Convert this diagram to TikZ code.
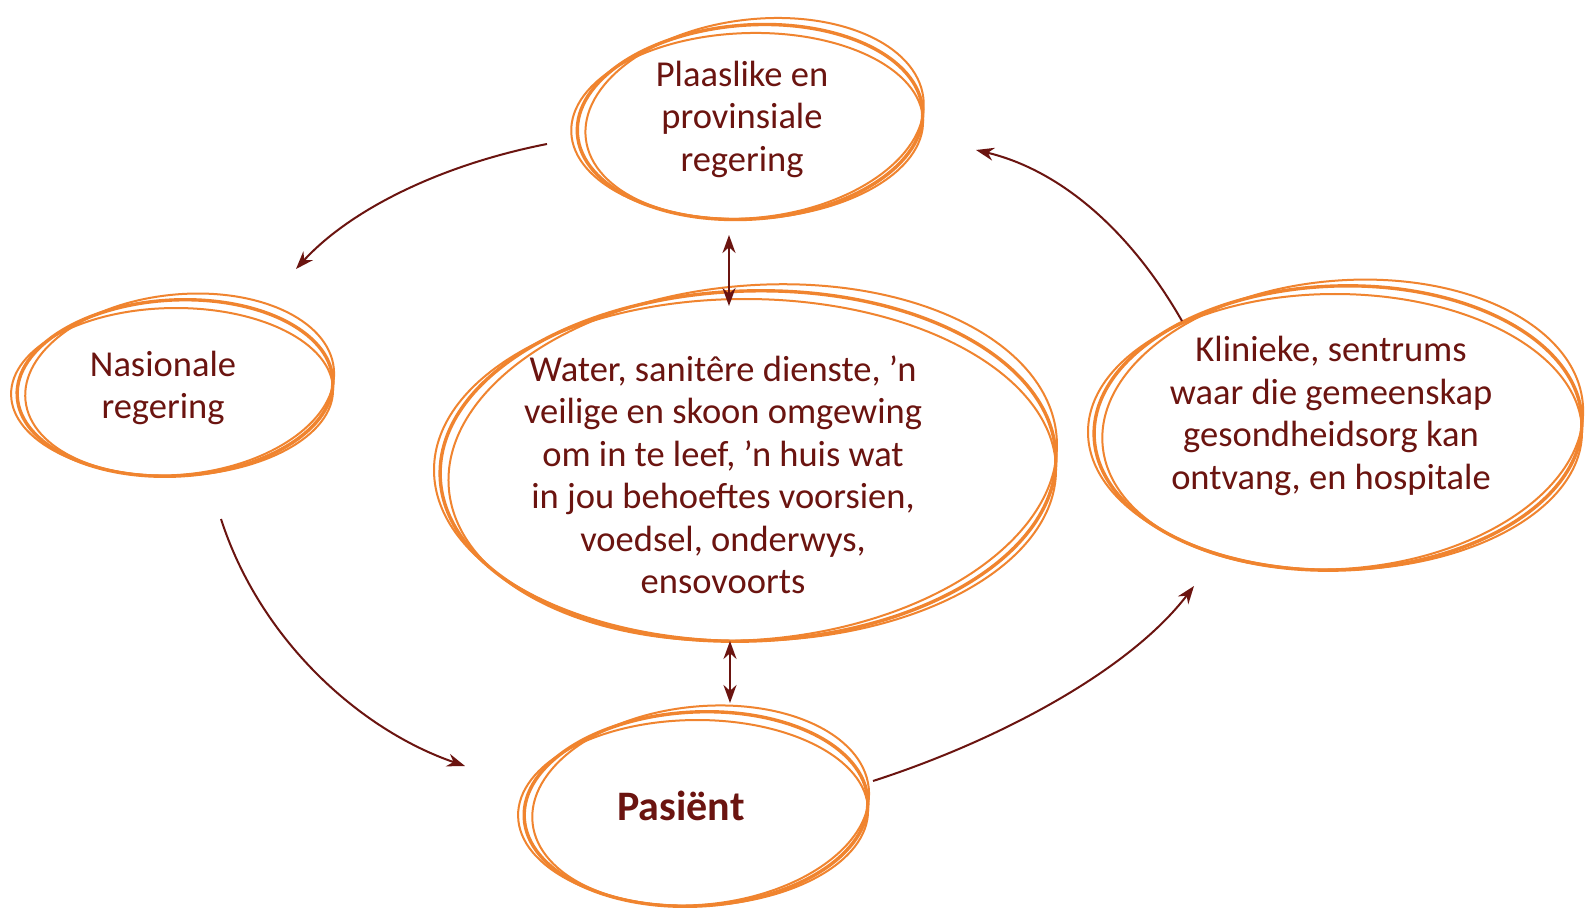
\documentclass[tikz,border=0pt]{standalone}
\usepackage{fontspec}
\setmainfont{Carlito}
\usetikzlibrary{arrows.meta,calc}
\definecolor{txt}{HTML}{6B1410}
\definecolor{org}{HTML}{F0842F}
\tikzset{
  lbl/.style={text=txt, align=center, font=\fontsize{36.5}{42.5}\selectfont},
  ring/.style={draw=org, line width=3.4pt},
  ringthin/.style={draw=org, line width=2pt},
  conn/.style={draw=txt, line width=2pt, -{Stealth[length=18pt,width=13pt]}},
  dconn/.style={draw=txt, line width=2.6pt, {Stealth[length=18pt,width=13pt]}-{Stealth[length=18pt,width=13pt]}},
}
\newcommand{\handring}[4]{%
  \draw[ring, rotate around={#4:(#1)}] (#1) ellipse [x radius=#2, y radius=#3];
  \draw[ringthin, rotate around={#4+3:(#1)}] ($(#1)+(5,-3)$) ellipse [x radius=#2-3, y radius=#3+2];
  \draw[ringthin, rotate around={#4-2:(#1)}] ($(#1)+(-3,4)$) ellipse [x radius=#2+3, y radius=#3-4];
}
\begin{document}
\begin{tikzpicture}[x=1pt,y=-1pt]
\useasboundingbox (0,0) rectangle (1588,909);
\fill[white] (0,0) rectangle (1588,909);

% rings
\handring{750,122}{173}{97}{4}
\handring{175,388}{158}{88}{3}
\handring{748,466}{308}{175}{2}
\handring{1338,428}{244}{142}{2}
\handring{696,809}{172}{97}{3}

% texts
\node[lbl] (top) at (742,119) {Plaaslike en\\provinsiale\\regering};
\node[lbl] (nat) at (163,388) {Nasionale\\regering};
\node[lbl] (mid) at (723,475) {Water, sanitêre dienste, ’n\\veilige en skoon omgewing\\om in te leef, ’n huis wat\\in jou behoeftes voorsien,\\voedsel, onderwys,\\ensovoorts};
\node[lbl] (rgt) at (1331,416) {Klinieke, sentrums\\waar die gemeenskap\\gesondheidsorg kan\\ontvang, en hospitale};
\node[lbl, font=\bfseries\fontsize{42}{46}\selectfont] (pat) at (681,806) {Pasiënt};

% connector endpoints
\coordinate (a1) at (547,144);
\coordinate (a2) at (296,269);
\coordinate (b1) at (221,519);
\coordinate (b2) at (465,766);
\coordinate (c1) at (873,781);
\coordinate (c2) at (1194,586);
\coordinate (d1) at (1182,321);
\coordinate (d2) at (976,150);
\coordinate (e1) at (729,235);
\coordinate (e2) at (729,306);
\coordinate (f1) at (730,641);
\coordinate (f2) at (730,703);

\draw[conn] (a1) .. controls (440,165) and (350,210) .. (a2);
\draw[conn] (b1) .. controls (260,640) and (360,730) .. (b2);
\draw[conn] (c1) .. controls (1000,740) and (1130,670) .. (c2);
\draw[conn] (d1) .. controls (1130,230) and (1060,170) .. (d2);
\draw[dconn] (e1) -- (e2);
\draw[dconn] (f1) -- (f2);
\end{tikzpicture}
\end{document}
